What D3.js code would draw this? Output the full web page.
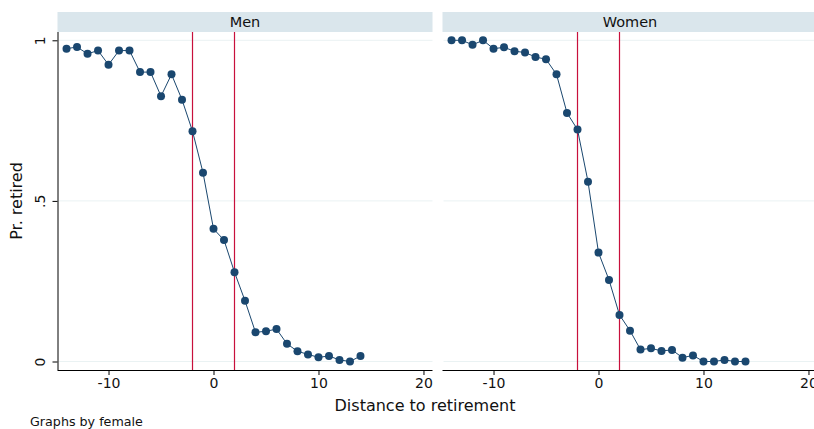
<!DOCTYPE html>
<html>
<head>
<meta charset="utf-8">
<script src="https://cdn.jsdelivr.net/npm/d3@7"></script>
<style>
  body { margin: 0; background: #fff; }
  svg { font-family: "DejaVu Sans", sans-serif; }
</style>
</head>
<body>
<svg id="chart" width="814" height="429"></svg>
<script>
// distance to retirement, -14 .. 14
var distance = [-14,-13,-12,-11,-10,-9,-8,-7,-6,-5,-4,-3,-2,-1,0,1,2,3,4,5,6,7,8,9,10,11,12,13,14];

// share retired
var men = [0.974,0.979,0.958,0.968,0.924,0.968,0.968,0.901,0.901,0.826,0.894,0.815,0.717,0.588,
           0.413,0.378,0.278,0.189,0.091,0.094,0.101,0.055,0.032,0.022,0.013,0.017,0.005,0.000,0.017];
var women = [1.000,1.000,0.986,1.000,0.974,0.978,0.966,0.962,0.948,0.941,0.894,0.774,0.722,0.560,
             0.339,0.254,0.145,0.096,0.037,0.041,0.033,0.036,0.012,0.019,0.000,0.000,0.005,0.000,0.000];

var panelNames = ["Men", "Women"];
var xTicks = [-10, 0, 10, 20];
var yTicks = [0, 0.5, 1];
var yTickLabels = ["0", ".5", "1"];
var cutoffs = [-2, 2];

var svg = d3.select("#chart");
var navy = "#1a476f";
var red = "#c8103c";

// each panel is 375px wide
var panelLeft = [57.5, 442.5];
var panelW = 375;
var plotTop = 32, plotBottom = 370;

var y = d3.scaleLinear().domain([0, 1]).range([361.5, 40.3]);

var series = [men, women];

panelNames.forEach(function(name, p) {
  var x0 = panelLeft[p];
  var x = d3.scaleLinear().domain([-14.86, 20.86]).range([x0, x0 + panelW]);
  var g = svg.append("g");

  // header strip
  g.append("rect")
    .attr("x", x0).attr("y", 12)
    .attr("width", panelW).attr("height", 20)
    .attr("fill", "#dae6ec");
  g.append("text")
    .attr("x", x0 + panelW / 2).attr("y", 27)
    .attr("text-anchor", "middle")
    .attr("font-size", 14.5)
    .attr("fill", "#111")
    .text(name);

  // horizontal grid
  g.selectAll(".grid").data(yTicks).enter().append("line")
    .attr("x1", x0 + 1).attr("x2", x0 + panelW)
    .attr("y1", function(d) { return y(d); })
    .attr("y2", function(d) { return y(d); })
    .attr("stroke", "#eaf2f3").attr("stroke-width", 1);

  // x axis
  var xAxis = d3.axisBottom(x).tickValues(xTicks).tickSize(5).tickPadding(3)
    .tickFormat(function(d) { return String(d); });
  var ax = g.append("g").attr("transform", "translate(0," + plotBottom + ")").call(xAxis);
  ax.select(".domain").attr("d", "M" + x0 + ",0.5H" + (x0 + panelW)).attr("stroke", "#000");
  ax.selectAll(".tick line").attr("stroke", "#000");
  ax.selectAll(".tick text").attr("font-size", 14).attr("fill", "#111").attr("font-family", "DejaVu Sans, sans-serif");

  // y axis only on the first panel
  if (p === 0) {
    var yAxis = d3.axisLeft(y).tickValues(yTicks).tickSize(5).tickPadding(0)
      .tickFormat(function(d, i) { return yTickLabels[i]; });
    var ay = g.append("g").attr("transform", "translate(" + x0 + ",0)").call(yAxis);
    ay.select(".domain").attr("d", "M0.5," + plotTop + "V" + plotBottom).attr("stroke", "#000");
    ay.selectAll(".tick line").attr("stroke", "#000");
    ay.selectAll(".tick text")
      .attr("font-size", 14).attr("fill", "#111").attr("font-family", "DejaVu Sans, sans-serif")
      .attr("text-anchor", "middle")
      .attr("x", null).attr("dy", null)
      .attr("transform", "translate(-13,0) rotate(-90)")
      .attr("y", 0);
  }

  // cutoff lines
  g.selectAll(".cut").data(cutoffs).enter().append("line")
    .attr("x1", function(d) { return x(d); })
    .attr("x2", function(d) { return x(d); })
    .attr("y1", plotTop).attr("y2", plotBottom)
    .attr("stroke", red).attr("stroke-width", 1.2);

  var pts = distance.map(function(d, i) { return [d, series[p][i]]; });

  g.append("path")
    .datum(pts)
    .attr("fill", "none")
    .attr("stroke", navy)
    .attr("stroke-width", 1)
    .attr("d", d3.line().x(function(d) { return x(d[0]); }).y(function(d) { return y(d[1]); }));

  g.selectAll(".pt").data(pts).enter().append("circle")
    .attr("cx", function(d) { return x(d[0]); })
    .attr("cy", function(d) { return y(d[1]); })
    .attr("r", 4)
    .attr("fill", navy);
});

// axis titles
svg.append("text")
  .attr("transform", "translate(22,201) rotate(-90)")
  .attr("text-anchor", "middle")
  .attr("font-size", 16).attr("fill", "#111")
  .text("Pr. retired");

svg.append("text")
  .attr("x", 425).attr("y", 411)
  .attr("text-anchor", "middle")
  .attr("font-size", 16).attr("fill", "#111")
  .text("Distance to retirement");

svg.append("text")
  .attr("x", 30).attr("y", 426)
  .attr("font-size", 12.7).attr("fill", "#111")
  .text("Graphs by female");
</script>
</body>
</html>
